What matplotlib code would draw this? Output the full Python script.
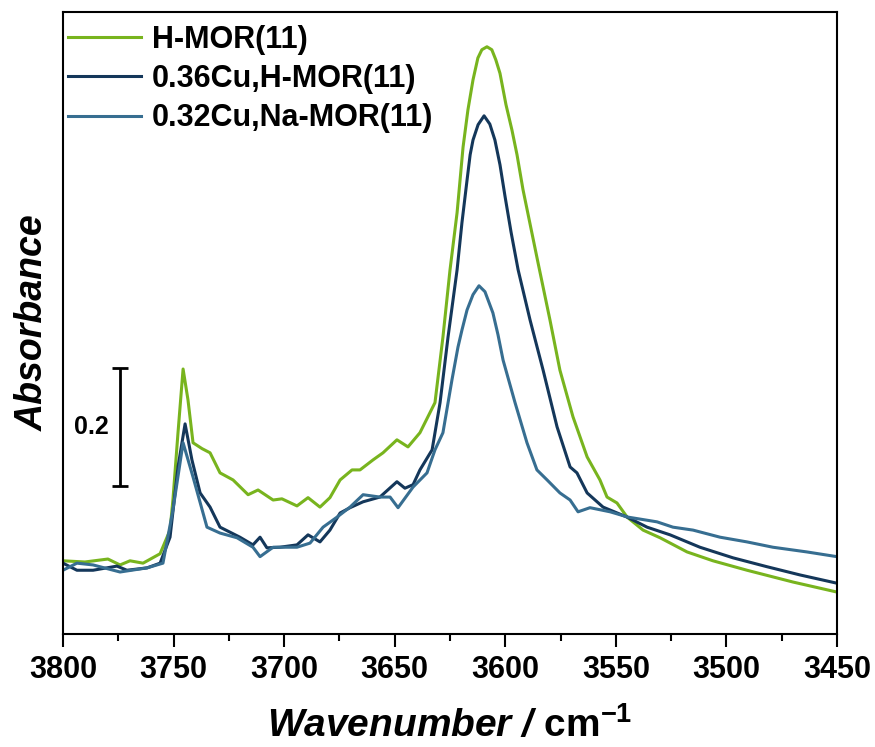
import matplotlib
matplotlib.use('Agg')
from matplotlib import pyplot as plt
from matplotlib.ticker import MultipleLocator

plt.rcParams['font.family'] = ['Liberation Sans', 'DejaVu Sans']
plt.rcParams['mathtext.fontset'] = 'custom'
plt.rcParams['mathtext.rm'] = 'Liberation Sans:bold'
plt.rcParams['mathtext.it'] = 'Liberation Sans:bold:italic'
plt.rcParams['mathtext.bf'] = 'Liberation Sans:bold'

labels = ["H-MOR(11)", "0.36Cu,H-MOR(11)", "0.32Cu,Na-MOR(11)"]
colors = ["#78b41e", "#14375a", "#376e91"]

# H-MOR(11)
wn_h = [3800, 3790.1, 3779.7, 3774.2, 3769.7, 3763.8, 3756.1, 3751.6, 3750.3, 3748.0,
        3745.7, 3743.5, 3741.2, 3737.1, 3733.5, 3729.0, 3723.1, 3716.3, 3711.8, 3705.0,
        3701.0, 3694.2, 3689.2, 3683.8, 3679.3, 3674.7, 3669.3, 3665.7, 3659.8, 3655.3,
        3649.0, 3644.0, 3638.6, 3631.8, 3628.2, 3625.0, 3621.8, 3619.1, 3616.9, 3614.6,
        3612.4, 3610.6, 3608.3, 3606.1, 3604.3, 3602.4, 3599.7, 3597.0, 3594.7, 3592.0,
        3585.2, 3579.8, 3575.3, 3569.4, 3563.0, 3557.2, 3554.0, 3549.5, 3544.9, 3537.7,
        3530.0, 3517.8, 3506.1, 3490.7, 3469.9, 3450]
abs_h = [0.124, 0.122, 0.127, 0.117, 0.124, 0.120, 0.136, 0.176, 0.227, 0.341,
         0.449, 0.397, 0.324, 0.314, 0.307, 0.273, 0.261, 0.236, 0.244, 0.227,
         0.229, 0.217, 0.231, 0.215, 0.231, 0.261, 0.278, 0.278, 0.295, 0.307,
         0.329, 0.317, 0.341, 0.392, 0.503, 0.617, 0.714, 0.825, 0.888, 0.939,
         0.976, 0.990, 0.995, 0.990, 0.973, 0.950, 0.897, 0.854, 0.812, 0.753,
         0.629, 0.532, 0.447, 0.368, 0.300, 0.261, 0.232, 0.222, 0.198, 0.176,
         0.163, 0.139, 0.124, 0.108, 0.088, 0.071]

# 0.36Cu,H-MOR(11)
wn_cuh = [3800, 3793.7, 3786.4, 3775.6, 3771.1, 3762.0, 3756.1, 3751.6, 3748.0, 3744.8,
          3741.7, 3738.0, 3733.5, 3729.0, 3720.0, 3714.1, 3710.9, 3707.8, 3701.9, 3694.2,
          3689.2, 3683.8, 3679.3, 3674.7, 3670.2, 3664.3, 3656.7, 3649.0, 3645.4, 3641.7,
          3638.6, 3633.1, 3629.5, 3625.9, 3621.8, 3619.6, 3617.3, 3615.9, 3614.6, 3612.3,
          3609.6, 3607.0, 3604.7, 3602.4, 3600.1, 3597.4, 3594.2, 3588.8, 3582.9, 3576.6,
          3570.7, 3567.6, 3563.0, 3555.8, 3544.9, 3535.9, 3525.5, 3512.0, 3497.0, 3481.7,
          3466.7, 3450]
abs_cuh = [0.120, 0.108, 0.108, 0.115, 0.108, 0.112, 0.120, 0.164, 0.283, 0.356,
           0.295, 0.239, 0.215, 0.181, 0.164, 0.151, 0.164, 0.146, 0.147, 0.151,
           0.168, 0.156, 0.176, 0.205, 0.214, 0.224, 0.232, 0.258, 0.247, 0.253,
           0.278, 0.312, 0.392, 0.503, 0.617, 0.697, 0.769, 0.812, 0.837, 0.863,
           0.878, 0.864, 0.837, 0.795, 0.741, 0.681, 0.617, 0.532, 0.447, 0.351,
           0.283, 0.273, 0.239, 0.215, 0.198, 0.181, 0.168, 0.147, 0.129, 0.114,
           0.100, 0.086]

# 0.32Cu,Na-MOR(11)
wn_cuna = [3800, 3793.7, 3786.4, 3774.2, 3762.0, 3754.8, 3750.3, 3745.7, 3741.2, 3734.9,
           3729.0, 3721.3, 3714.1, 3710.9, 3705.0, 3694.2, 3688.3, 3682.4, 3676.1, 3670.2,
           3664.3, 3656.7, 3652.1, 3648.5, 3641.7, 3635.4, 3631.8, 3628.2, 3624.1, 3621.4,
           3619.6, 3617.3, 3614.6, 3611.9, 3609.2, 3605.6, 3603.3, 3601.0, 3595.6, 3590.2,
           3585.7, 3581.1, 3575.3, 3570.7, 3567.1, 3561.7, 3552.6, 3544.5, 3531.4, 3524.2,
           3515.1, 3502.9, 3490.7, 3479.0, 3463.6, 3450]
abs_cuna = [0.108, 0.120, 0.117, 0.105, 0.112, 0.120, 0.210, 0.324, 0.266, 0.181,
            0.171, 0.163, 0.147, 0.131, 0.147, 0.147, 0.154, 0.181, 0.198, 0.215,
            0.236, 0.232, 0.232, 0.214, 0.249, 0.273, 0.312, 0.341, 0.431, 0.486,
            0.515, 0.549, 0.575, 0.590, 0.580, 0.544, 0.507, 0.464, 0.392, 0.324,
            0.278, 0.261, 0.239, 0.227, 0.207, 0.214, 0.207, 0.198, 0.190, 0.181,
            0.176, 0.164, 0.156, 0.147, 0.139, 0.131]

# scale bar
bar_wn = 3774.2
bar_bottom = 0.251
bar_size = 0.2

fig = plt.figure(figsize=(8.75, 7.47), dpi=100)
ax = fig.add_axes([0.072, 0.1513, 0.8846, 0.8327])

ax.plot(wn_h, abs_h, color=colors[0], lw=2.2, label=labels[0])
ax.plot(wn_cuh, abs_cuh, color=colors[1], lw=2.2, label=labels[1])
ax.plot(wn_cuna, abs_cuna, color=colors[2], lw=2.2, label=labels[2])

ax.errorbar([bar_wn], [bar_bottom + bar_size / 2], yerr=bar_size / 2, color='black',
            elinewidth=2, capsize=6, capthick=2, fmt='none')
ax.text(3787.3, bar_bottom + bar_size / 2, str(bar_size), fontsize=18, fontweight='bold',
        ha='center', va='center')

ax.set_xlim(3800, 3450)
ax.set_ylim(0, 1.054)
ax.xaxis.set_major_locator(MultipleLocator(50))
ax.xaxis.set_minor_locator(MultipleLocator(25))
ax.tick_params(axis='x', which='major', direction='out', length=9, width=1.5,
               labelsize=22, pad=6)
ax.tick_params(axis='x', which='minor', direction='out', length=5, width=1.5)
ax.set_yticks([])
for lbl in ax.get_xticklabels():
    lbl.set_fontweight('bold')
for sp in ax.spines.values():
    sp.set_linewidth(1.5)

ax.set_xlabel(r'Wavenumber / $\mathrm{cm}^{\mathrm{-1}}$', fontsize=28, fontweight='bold',
              style='italic', labelpad=15)
ax.set_ylabel('Absorbance', fontsize=27, fontweight='bold', style='italic', labelpad=9)

leg = ax.legend(loc='upper left', bbox_to_anchor=(0.0065, 0.979), frameon=False,
                prop={'size': 22, 'weight': 'bold'}, handlelength=2.4,
                handletextpad=0.35, labelspacing=0.3, borderpad=0, borderaxespad=0)

fig.savefig('out.png', dpi=100)
